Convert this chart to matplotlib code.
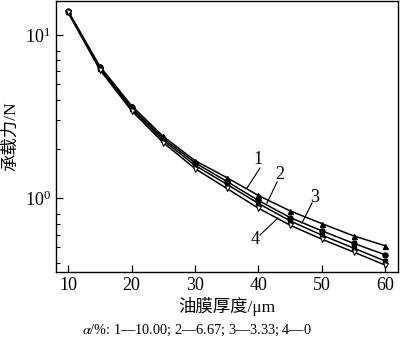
import numpy as np
import matplotlib
matplotlib.use("Agg")
import matplotlib.pyplot as plt
from matplotlib.ticker import LogLocator, NullFormatter, FixedLocator

plt.rcParams['font.family'] = ['Liberation Serif', 'Noto Sans CJK SC']
plt.rcParams['mathtext.fontset'] = 'stix'

# 油膜厚度 (μm)
h = [10, 15, 20, 25, 30, 35, 40, 45, 50, 55, 60]

# 承载力 (N), α = 10.00 / 6.67 / 3.33 / 0 %
f1 = [14.0, 6.43, 3.69, 2.39, 1.70, 1.34, 1.04, 0.837, 0.700, 0.589, 0.512]
f2 = [13.9, 6.33, 3.60, 2.32, 1.65, 1.27, 0.97, 0.762, 0.632, 0.530, 0.451]
f3 = [13.8, 6.22, 3.52, 2.26, 1.59, 1.22, 0.93, 0.727, 0.595, 0.496, 0.413]
f4 = [13.7, 6.12, 3.44, 2.19, 1.52, 1.15, 0.87, 0.684, 0.562, 0.469, 0.390]

xticks = [10, 20, 30, 40, 50, 60]

fig = plt.figure(figsize=(4.0, 3.4), dpi=100)
ax = fig.add_axes([0.14, 0.2, 0.855, 0.797])

ms = 3.6
ax.plot(h, f1, '-', color='k', lw=1.1, marker='^', ms=ms, mfc='k', mec='k')
ax.plot(h, f2, '-', color='k', lw=1.1, marker='o', ms=ms, mfc='k', mec='k')
ax.plot(h, f3, '-', color='k', lw=1.1, marker='s', ms=ms - 0.4, mfc='k', mec='k')
ax.plot(h, f4, '-', color='k', lw=1.1, marker='v', ms=ms, mfc='white', mec='k', mew=0.8)

ax.set_yscale('log')
ax.set_xlim(8.1, 62)
ax.set_ylim(0.354, 16.1)
ax.xaxis.set_major_locator(FixedLocator(xticks))
ax.yaxis.set_major_locator(LogLocator(base=10))
ax.yaxis.set_minor_locator(LogLocator(base=10, subs=[2, 3, 4, 5, 6, 7, 8]))
ax.yaxis.set_minor_formatter(NullFormatter())

ax.tick_params(which='both', direction='in', labelsize=13)
ax.tick_params(which='major', length=5, width=0.9)
ax.tick_params(which='minor', length=3, width=0.8)
for s in ax.spines.values():
    s.set_linewidth(1.0)

ax.set_xlabel('油膜厚度/μm', fontsize=12.5, labelpad=2)
ax.set_ylabel('承载力/N', fontsize=12.5, labelpad=4)

# 曲线编号及引线
labels = [('1', (258, 160), (260, 168), (247, 188)),
          ('2', (280, 175), (277, 182), (267, 203)),
          ('3', (315, 197), (312, 203), (302, 223)),
          ('4', (255, 240), (260, 235), (278, 218))]
for txt, tp, p0, p1 in labels:
    fig.text(tp[0] / 400, 1 - tp[1] / 340, txt, fontsize=13, ha='center', va='center')
    fig.add_artist(plt.Line2D([p0[0] / 400, p1[0] / 400], [1 - p0[1] / 340, 1 - p1[1] / 340],
                              color='k', lw=0.8))

fig.text(0.493, 1 - 330 / 340, r'$\it{\alpha}$/%: 1—10.00; 2—6.67; 3—3.33; 4—0',
         fontsize=10.3, ha='center', va='center')

fig.savefig('out.png', dpi=100)
